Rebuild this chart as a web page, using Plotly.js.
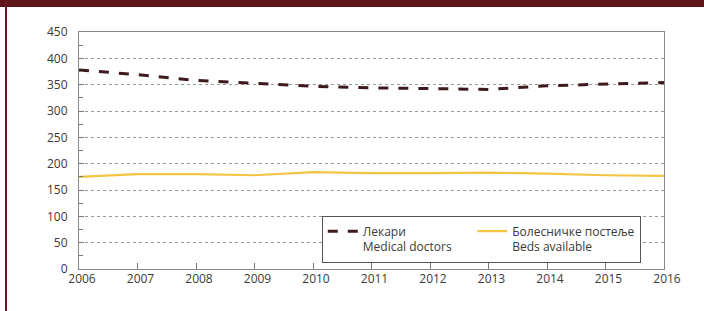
<!DOCTYPE html>
<html>
<head>
<meta charset="utf-8">
<script src="https://cdn.plot.ly/plotly-3.0.1.min.js"></script>
<style>
  html, body { margin: 0; padding: 0; background: #fff; }
  #wrap { position: relative; width: 704px; height: 311px; overflow: hidden; background: #fff; }
  #band { position: absolute; left: 0; top: 0; width: 704px; height: 7px; background: #5e1519; }
  #vline { position: absolute; left: 5px; top: 0; width: 2px; height: 311px; background: #6a1a1e; }
  #chart { position: absolute; left: 0; top: 0; width: 704px; height: 311px; }
</style>
</head>
<body>
<div id="wrap">
  <div id="band"></div>
  <div id="vline"></div>
  <div id="chart"></div>
</div>
<script>
const years = [2006, 2007, 2008, 2009, 2010, 2011, 2012, 2013, 2014, 2015, 2016];
const doctors = [378, 369, 358, 353, 347, 344, 343, 341, 348, 351, 354];
const beds = [175, 180, 180, 178, 184, 182, 182, 183, 181, 178, 177];
const yTicks = [0, 50, 100, 150, 200, 250, 300, 350, 400, 450];
const nameDoctors = 'Лекари<br>Medical doctors\u00a0\u00a0\u00a0\u00a0\u00a0';
const nameBeds = 'Болесничке постеље<br>Beds available';

const traces = [
  {
    x: years, y: doctors, type: 'scatter', mode: 'lines', name: nameDoctors,
    line: { color: '#3e1a1e', width: 3, dash: '10px,10px' }
  },
  {
    x: years, y: beds, type: 'scatter', mode: 'lines', name: nameBeds,
    line: { color: '#f3c544', width: 2.2 }
  }
];

const layout = {
  width: 704, height: 311,
  margin: { l: 79, r: 40, t: 32, b: 42, autoexpand: false },
  paper_bgcolor: 'rgba(0,0,0,0)',
  plot_bgcolor: 'rgba(0,0,0,0)',
  font: { family: 'Open Sans, sans-serif', size: 12, color: '#3a3a3a' },
  showlegend: true,
  xaxis: {
    range: [2006, 2016],
    tickvals: years,
    ticktext: years.map(String),
    ticks: 'inside', ticklen: 6, tickcolor: '#777', tickwidth: 1,
    showline: true, linecolor: '#888', linewidth: 1, mirror: true,
    showgrid: false, zeroline: false,
    ticklabelshift: 3,
    ticklabelstandoff: -1,
    tickfont: { size: 12, color: '#3a3a3a' }
  },
  yaxis: {
    range: [0, 450],
    tickvals: yTicks,
    ticktext: yTicks.map(String),
    ticks: 'inside', ticklen: 5, tickcolor: '#777', tickwidth: 1,
    minor: { dtick: 25, ticks: 'inside', ticklen: 4, tickcolor: '#777', showgrid: false },
    showline: true, linecolor: '#888', linewidth: 1, mirror: true,
    showgrid: true, gridcolor: '#999', griddash: 'dot', gridwidth: 1,
    zeroline: false,
    ticklabelstandoff: 8,
    tickfont: { size: 12, color: '#3a3a3a' }
  },
  legend: {
    orientation: 'h',
    x: 0.415, y: 0.224, xanchor: 'left', yanchor: 'top',
    bgcolor: '#fff', bordercolor: '#555', borderwidth: 1,
    valign: 'top',
    font: { size: 12, color: '#3a3a3a' }
  }
};

Plotly.newPlot('chart', traces, layout, { staticPlot: true, displayModeBar: false });
</script>
</body>
</html>
